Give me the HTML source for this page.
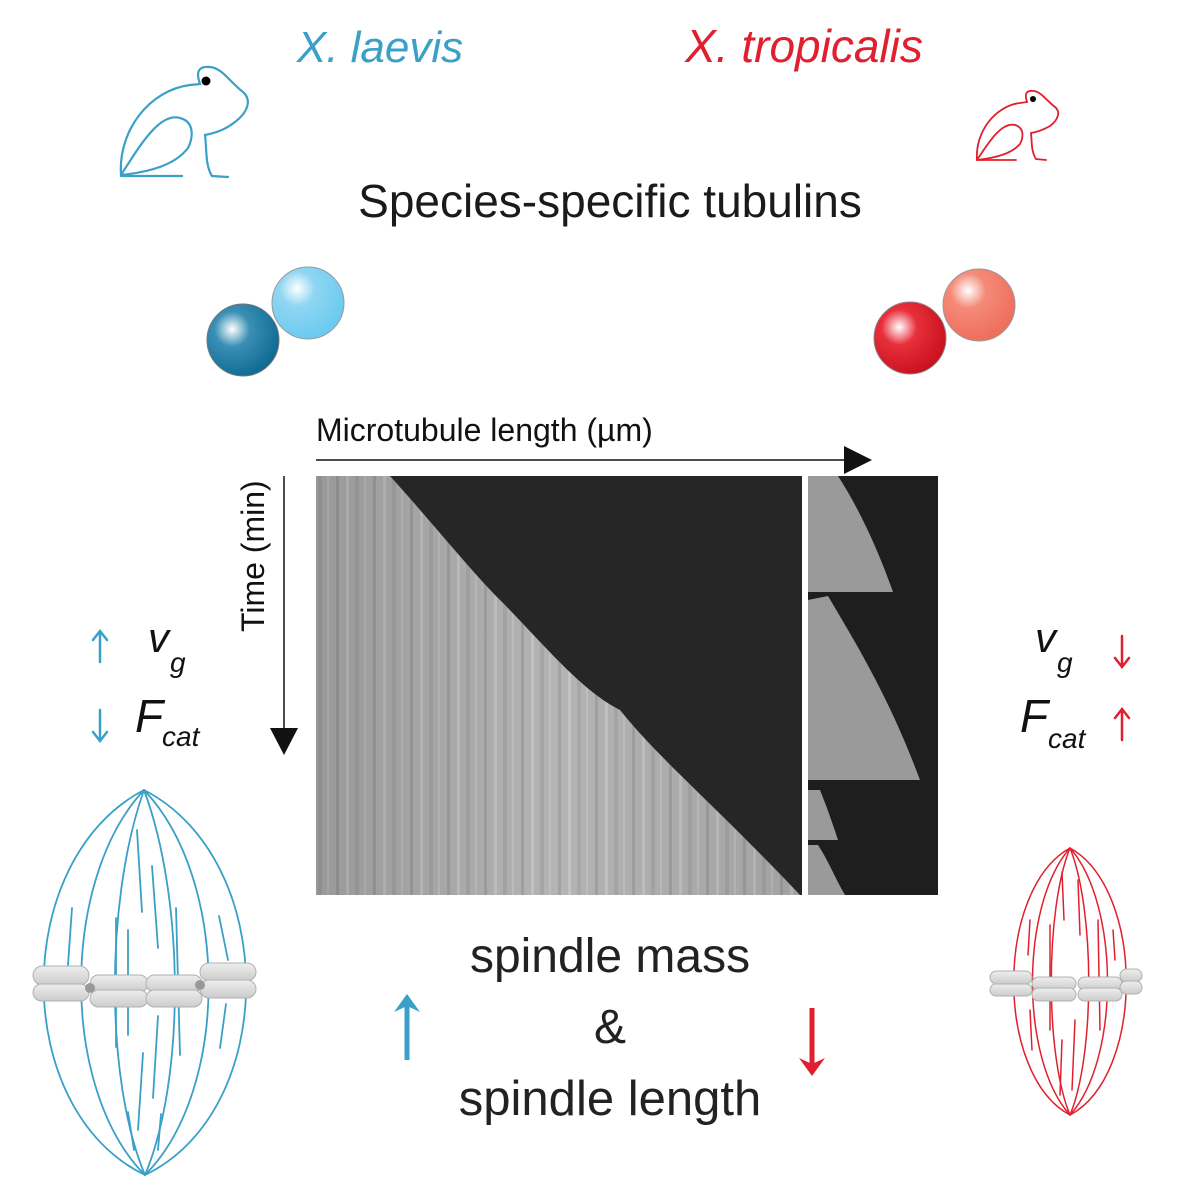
<!DOCTYPE html>
<html><head><meta charset="utf-8"><style>
html,body{margin:0;padding:0;background:#fff}
svg{display:block}
text{font-family:"Liberation Sans",sans-serif}
</style></head><body>
<svg width="1200" height="1196" viewBox="0 0 1200 1196" xmlns="http://www.w3.org/2000/svg">
<defs>
<radialGradient id="b1" cx="0.35" cy="0.35" r="0.7"><stop offset="0" stop-color="#fff"/><stop offset="0.35" stop-color="#3a8fb5"/><stop offset="1" stop-color="#0d6a93"/></radialGradient>
<radialGradient id="b2" cx="0.35" cy="0.3" r="0.7"><stop offset="0" stop-color="#fff"/><stop offset="0.35" stop-color="#8fd6f2"/><stop offset="1" stop-color="#6ccaf0"/></radialGradient>
<radialGradient id="r1" cx="0.35" cy="0.35" r="0.7"><stop offset="0" stop-color="#fff"/><stop offset="0.35" stop-color="#e8303c"/><stop offset="1" stop-color="#c8101e"/></radialGradient>
<radialGradient id="r2" cx="0.35" cy="0.3" r="0.7"><stop offset="0" stop-color="#fff"/><stop offset="0.35" stop-color="#f58a78"/><stop offset="1" stop-color="#ee6f5c"/></radialGradient>
<pattern id="stripes" width="37" height="10" patternUnits="userSpaceOnUse">
<rect width="37" height="10" fill="#b4b4b4"/><rect x="3" width="3" height="10" fill="#a2a2a2"/><rect x="13" width="3" height="10" fill="#c4c4c4"/><rect x="22" width="4" height="10" fill="#a8a8a8"/><rect x="31" width="2" height="10" fill="#c0c0c0"/></pattern>
<linearGradient id="kg" x1="0" y1="0" x2="1" y2="0"><stop offset="0" stop-color="#000" stop-opacity="0.15"/><stop offset="0.5" stop-color="#000" stop-opacity="0"/><stop offset="1" stop-color="#000" stop-opacity="0.1"/></linearGradient>
<linearGradient id="cg" x1="0" y1="0" x2="0" y2="1"><stop offset="0" stop-color="#eeeeee"/><stop offset="1" stop-color="#cccccc"/></linearGradient>
</defs>

<text x="380" y="62" font-size="44" font-style="italic" fill="#3aa0c8" text-anchor="middle">X. laevis</text>
<text x="804" y="62" font-size="46" font-style="italic" fill="#e0202e" text-anchor="middle">X. tropicalis</text>

<!-- blue frog -->
<g fill="none" stroke="#3aa0c8" stroke-width="2.2" stroke-linecap="round">
<path d="M121 175 C118 130 150 90 190 85 L200 84 C195 70 200 66 210 67 C222 68 230 82 243 92 C252 100 248 112 235 122 C225 130 215 133 205 135 C207 150 205 165 212 176 L228 177"/>
<path d="M121 175 C140 145 160 112 180 118 C195 122 193 138 188 148 C175 165 150 172 121 175"/>
<path d="M121 176 L182 176"/>
</g>
<circle cx="206" cy="81" r="4.5" fill="#000"/>
<!-- red frog -->
<g fill="none" stroke="#e0202e" stroke-width="1.8" stroke-linecap="round">
<path d="M977 160 C975 132 995 106 1020 103 L1027 102 C1024 93 1027 90 1034 91 C1041 92 1046 100 1055 107 C1061 112 1058 120 1050 126 C1043 130 1037 132 1031 133 C1032 142 1031 151 1036 159 L1046 160"/>
<path d="M977 160 C990 140 1002 122 1015 125 C1025 128 1023 138 1020 144 C1011 154 995 158 977 160"/>
<path d="M977 160 L1016 160"/>
</g>
<circle cx="1033" cy="99" r="3" fill="#000"/>

<text x="610" y="217" font-size="46" fill="#1a1a1a" text-anchor="middle">Species-specific tubulins</text>

<circle cx="308" cy="303" r="36" fill="url(#b2)" stroke="#999" stroke-width="1"/>
<circle cx="243" cy="340" r="36" fill="url(#b1)" stroke="#777" stroke-width="1"/>
<circle cx="979" cy="305" r="36" fill="url(#r2)" stroke="#999" stroke-width="1"/>
<circle cx="910" cy="338" r="36" fill="url(#r1)" stroke="#888" stroke-width="1"/>

<text x="316" y="441" font-size="32" fill="#111">Microtubule length (µm)</text>
<line x1="316" y1="460" x2="848" y2="460" stroke="#111" stroke-width="1.5"/>
<polygon points="844,446 872,460 844,474" fill="#111"/>
<text transform="translate(264,632) rotate(-90)" font-size="32" fill="#111">Time (min)</text>
<line x1="284" y1="476" x2="284" y2="730" stroke="#111" stroke-width="1.5"/>
<polygon points="270,728 298,728 284,755" fill="#111"/>

<!-- kymograph -->
<rect x="316" y="476" width="486" height="419" fill="#262626"/>
<path d="M316 476 L390 476 C430 520 470 570 500 600 C540 640 580 690 620 710 C660 760 710 800 800 895 L316 895 Z" fill="url(#stripes)"/>
<path d="M316 476 L390 476 C430 520 470 570 500 600 C540 640 580 690 620 710 C660 760 710 800 800 895 L316 895 Z" fill="url(#kg)"/>
<rect x="808" y="476" width="130" height="419" fill="#1e1e1e"/>
<g fill="#9a9a9a">
<path d="M808 476 L838 476 C860 510 878 550 893 592 L808 592 Z"/>
<path d="M808 600 L828 596 C860 650 890 700 920 780 L808 780 Z"/>
<path d="M808 790 L820 790 C828 810 833 825 838 840 L808 840 Z"/>
<path d="M808 845 L818 845 C828 860 836 880 845 895 L808 895 Z"/>
</g>

<!-- small arrows -->
<g fill="none" stroke-width="2.5" stroke-linecap="round">
<g stroke="#3aa0c8">
<path d="M100 632 L100 662 M93 640 L100 631 L107 640"/>
<path d="M100 710 L100 740 M93 732 L100 741 L107 732"/>
</g>
<g stroke="#e0202e">
<path d="M1122 636 L1122 666 M1115 658 L1122 667 L1129 658"/>
<path d="M1122 710 L1122 740 M1115 718 L1122 709 L1129 718"/>
</g>
</g>
<!-- left params -->
<text x="148" y="652" font-size="42" font-style="italic" fill="#111">v</text>
<text x="170" y="672" font-size="28" font-style="italic" fill="#111">g</text>
<text x="135" y="732" font-size="46" font-style="italic" fill="#111">F</text>
<text x="162" y="746" font-size="28" font-style="italic" fill="#111">cat</text>
<!-- right params -->
<text x="1035" y="652" font-size="42" font-style="italic" fill="#111">v</text>
<text x="1057" y="672" font-size="28" font-style="italic" fill="#111">g</text>
<text x="1020" y="732" font-size="46" font-style="italic" fill="#111">F</text>
<text x="1048" y="748" font-size="28" font-style="italic" fill="#111">cat</text>

<!-- center text -->
<text x="610" y="972" font-size="48" fill="#222" text-anchor="middle">spindle mass</text>
<text x="610" y="1043" font-size="48" fill="#222" text-anchor="middle">&amp;</text>
<text x="610" y="1115" font-size="49" fill="#222" text-anchor="middle">spindle length</text>
<g fill="none" stroke-width="5" stroke-linecap="butt">
<path d="M407 997 L407 1060" stroke="#3aa0c8"/>
<path d="M812 1008 L812 1072" stroke="#e0202e"/>
</g>
<polygon points="394,1012 407,994 420,1012 407,1006" fill="#3aa0c8"/>
<polygon points="799,1058 812,1076 825,1058 812,1064" fill="#e0202e"/>

<!-- blue spindle -->
<g fill="none" stroke="#3aa0c8" stroke-width="1.8" stroke-linecap="round">
<path d="M144 790 C10 860 10 1110 145 1175"/>
<path d="M144 790 C280 860 280 1110 145 1175"/>
<path d="M144 790 C60 880 60 1090 145 1175"/>
<path d="M144 790 C230 880 230 1090 145 1175"/>
<path d="M144 790 C105 900 105 1080 145 1175"/>
<path d="M144 790 C185 900 185 1080 145 1175"/>
<line x1="137" y1="830" x2="142" y2="912"/>
<line x1="152" y1="866" x2="158" y2="948"/>
<line x1="72" y1="908" x2="68" y2="965"/>
<line x1="116" y1="918" x2="116" y2="1047"/>
<line x1="128" y1="930" x2="128" y2="1035"/>
<line x1="176" y1="908" x2="180" y2="1055"/>
<line x1="219" y1="916" x2="228" y2="960"/>
<line x1="226" y1="1004" x2="220" y2="1048"/>
<line x1="158" y1="1016" x2="153" y2="1098"/>
<line x1="143" y1="1053" x2="138" y2="1130"/>
<line x1="128" y1="1112" x2="134" y2="1150"/>
<line x1="161" y1="1114" x2="158" y2="1150"/>
</g>
<g fill="url(#cg)" stroke="#b0b0b0" stroke-width="1">
<rect x="33" y="966" width="56" height="19" rx="9.5"/>
<rect x="33" y="984" width="56" height="17" rx="8.5"/>
<rect x="90" y="975" width="58" height="17" rx="8.5"/>
<rect x="90" y="990" width="58" height="17" rx="8.5"/>
<rect x="146" y="975" width="56" height="17" rx="8.5"/>
<rect x="146" y="990" width="56" height="17" rx="8.5"/>
<rect x="200" y="963" width="56" height="18" rx="9"/>
<rect x="200" y="980" width="56" height="18" rx="9"/>
</g>
<circle cx="90" cy="988" r="5" fill="#999"/>
<circle cx="200" cy="985" r="5" fill="#999"/>

<!-- red spindle -->
<g fill="none" stroke="#e0202e" stroke-width="1.5" stroke-linecap="round">
<path d="M1070 848 C995 890 995 1075 1070 1115"/>
<path d="M1070 848 C1145 890 1145 1075 1070 1115"/>
<path d="M1070 848 C1020 905 1020 1060 1070 1115"/>
<path d="M1070 848 C1120 905 1120 1060 1070 1115"/>
<path d="M1070 848 C1045 910 1045 1055 1070 1115"/>
<path d="M1070 848 C1095 910 1095 1055 1070 1115"/>
<line x1="1062" y1="872" x2="1064" y2="920"/>
<line x1="1078" y1="880" x2="1080" y2="935"/>
<line x1="1030" y1="920" x2="1028" y2="955"/>
<line x1="1050" y1="925" x2="1050" y2="1030"/>
<line x1="1098" y1="920" x2="1100" y2="1030"/>
<line x1="1113" y1="930" x2="1115" y2="960"/>
<line x1="1075" y1="1020" x2="1072" y2="1090"/>
<line x1="1062" y1="1040" x2="1060" y2="1095"/>
<line x1="1030" y1="1010" x2="1032" y2="1050"/>
</g>
<g fill="url(#cg)" stroke="#b0b0b0" stroke-width="1">
<rect x="990" y="971" width="42" height="13" rx="6.5"/>
<rect x="990" y="984" width="42" height="12" rx="6"/>
<rect x="1032" y="977" width="44" height="13" rx="6.5"/>
<rect x="1032" y="988" width="44" height="13" rx="6.5"/>
<rect x="1078" y="977" width="44" height="13" rx="6.5"/>
<rect x="1078" y="988" width="44" height="13" rx="6.5"/>
<rect x="1120" y="969" width="22" height="13" rx="6.5"/>
<rect x="1120" y="981" width="22" height="13" rx="6.5"/>
</g>
</svg>
</body></html>
